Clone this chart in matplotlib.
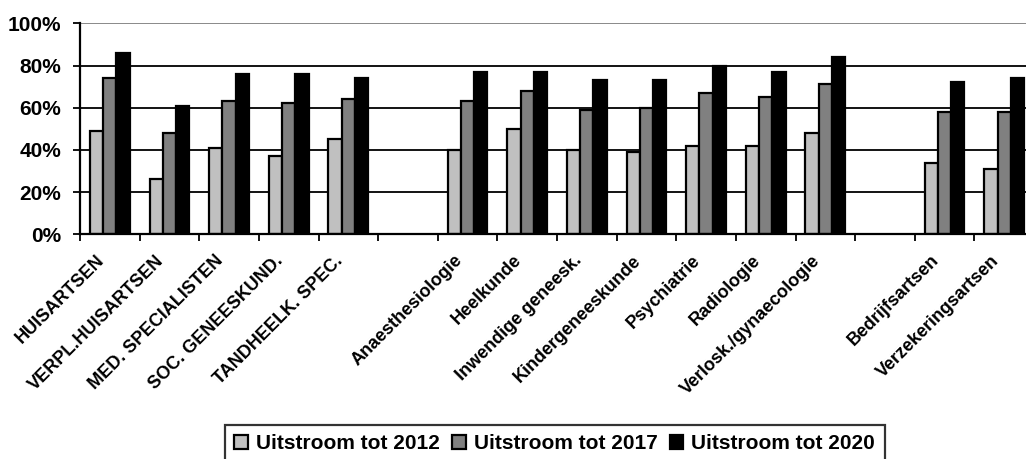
import matplotlib
matplotlib.use('Agg')
import matplotlib.pyplot as plt
from matplotlib.transforms import ScaledTranslation
import numpy as np

# Categories (empty strings leave a gap between the groups)
categories = [
    'HUISARTSEN', 'VERPL.HUISARTSEN', 'MED. SPECIALISTEN', 'SOC. GENEESKUND.',
    'TANDHEELK. SPEC.', '',
    'Anaesthesiologie', 'Heelkunde', 'Inwendige geneesk.', 'Kindergeneeskunde',
    'Psychiatrie', 'Radiologie', 'Verlosk./gynaecologie', '',
    'Bedrijfsartsen', 'Verzekeringsartsen',
]

# Share of outflow (percent), None = no bar
uitstroom_2012 = [49, 26, 41, 37, 45, None, 40, 50, 40, 39, 42, 42, 48, None, 34, 31]
uitstroom_2017 = [74, 48, 63, 62, 64, None, 63, 68, 59, 60, 67, 65, 71, None, 58, 58]
uitstroom_2020 = [86, 61, 76, 76, 74, None, 77, 77, 73, 73, 80, 77, 84, None, 72, 74]

series_labels = ['Uitstroom tot 2012', 'Uitstroom tot 2017', 'Uitstroom tot 2020']
series_colors = ['#C0C0C0', '#808080', '#000000']

y_ticks = [0, 20, 40, 60, 80, 100]

plt.rcParams['font.family'] = ['Liberation Sans', 'DejaVu Sans']
plt.rcParams['font.weight'] = 'bold'

fig = plt.figure(figsize=(10.26, 4.59), dpi=100)
W, H = 1026, 459
left, right = 80, 1034
bottom, top = 234.3, 23.3
ax = fig.add_axes([left / W, 1 - bottom / H, (right - left) / W, (bottom - top) / H])

x = np.arange(len(categories))
bar_w = 0.222
for i, (values, label, color) in enumerate(zip([uitstroom_2012, uitstroom_2017, uitstroom_2020],
                                                series_labels, series_colors)):
    vals = np.array([np.nan if v is None else v for v in values], dtype=float)
    ax.bar(x + (i - 1) * bar_w, vals, width=bar_w, color=color, edgecolor='black',
           linewidth=1.6, label=label, zorder=2)

ax.set_xlim(-0.5, len(categories) - 0.5)
ax.set_ylim(0, 100)

# Y axis
ax.set_yticks(y_ticks)
ax.set_yticklabels([f'{t}%' for t in y_ticks], fontsize=15, fontweight='bold')
ax.tick_params(axis='y', direction='out', length=5, width=1.3, pad=8.5)
ax.yaxis.grid(True, color='black', linewidth=1.3)
ax.set_axisbelow(True)
ax.get_ygridlines()[-1].set_color('#808080')

# X axis: tick marks on category boundaries, labels at category centers
ax.set_xticks(np.arange(len(categories) + 1) - 0.5, minor=True)
ax.tick_params(axis='x', which='minor', direction='out', length=5, width=1.3)
ax.set_xticks(x)
ax.set_xticklabels(categories, fontsize=13, fontweight='bold', rotation=45,
                   ha='right', va='center', rotation_mode='anchor')
ax.tick_params(axis='x', which='major', length=0, pad=17)
offset = ScaledTranslation(-8 / 100, 0, fig.dpi_scale_trans)
for lbl in ax.get_xticklabels():
    lbl.set_transform(lbl.get_transform() + offset)

for side in ['top', 'right']:
    ax.spines[side].set_visible(False)
for side in ['left', 'bottom']:
    ax.spines[side].set_linewidth(1.6)
    ax.spines[side].set_zorder(3)

handles, labels = ax.get_legend_handles_labels()
leg = fig.legend(handles, labels, loc='upper left', bbox_to_anchor=(225 / W, 1 - 425 / H),
                 bbox_transform=fig.transFigure, ncol=3, fontsize=15, frameon=True,
                 fancybox=False, edgecolor='black', borderaxespad=0, borderpad=0.45,
                 handlelength=0.67, handleheight=0.67, handletextpad=0.38,
                 columnspacing=0.57)
leg.get_frame().set_linewidth(1.6)
for t in leg.get_texts():
    t.set_fontweight('bold')

plt.savefig('out.png', dpi=100)
